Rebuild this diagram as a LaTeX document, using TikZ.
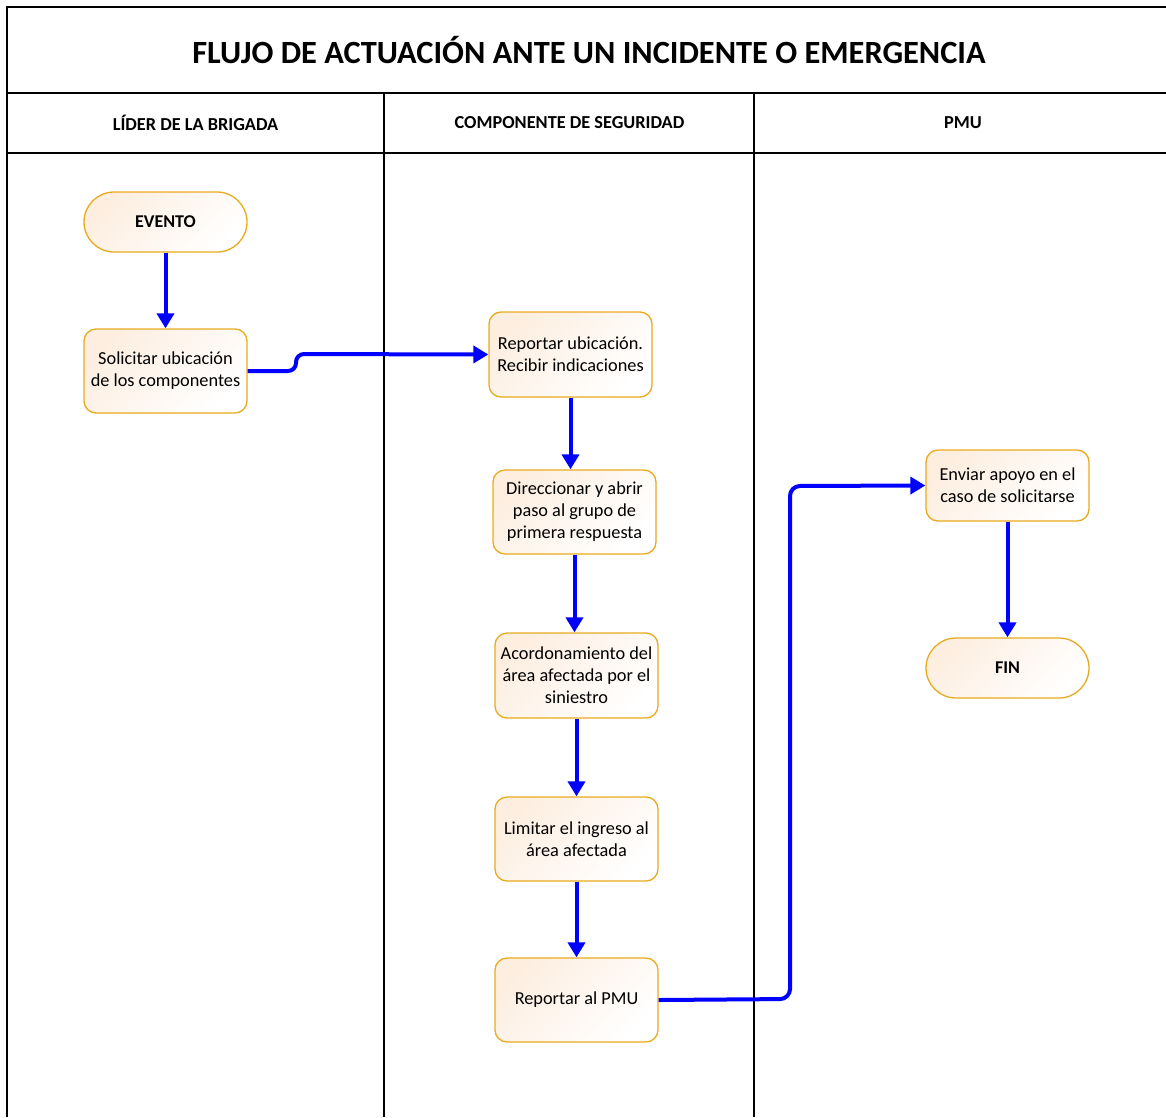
\documentclass[tikz,border=0pt]{standalone}
\usepackage{fontspec}
\setmainfont{Carlito}
\usetikzlibrary{arrows.meta}
\definecolor{gold}{RGB}{232,170,30}
\definecolor{peach}{RGB}{253,238,224}
\definecolor{flowblue}{RGB}{0,0,255}
\tikzset{
  frameline/.style={line width=1.6pt, black},
  procbox/.style={draw=gold, line width=1.3pt, rounded corners=12pt,
    minimum width=163pt, minimum height=84pt, align=center,
    top color=peach, bottom color=white, shading angle=45,
    font=\fontsize{18.3}{22}\selectfont, inner sep=2pt},
  termbox/.style={procbox, rounded corners=30pt, minimum height=60pt,
    font=\fontsize{18}{22}\selectfont\bfseries},
  flow/.style={draw=flowblue, line width=4pt,
    -{Triangle[width=17pt,length=15pt]}},
  header/.style={font=\fontsize{18.3}{20}\selectfont\bfseries},
}
\begin{document}
\begin{tikzpicture}[x=1pt,y=-1pt]
\useasboundingbox (0,0) rectangle (1166,1117);
% frame
\draw[frameline] (7,1117) -- (7,7) -- (1166,7);
\draw[frameline] (7,93) -- (1166,93);
\draw[frameline] (7,153) -- (1166,153);
\draw[frameline] (384,93) -- (384,1117);
\draw[frameline] (754,93) -- (754,1117);
% titles
\node[font=\fontsize{32.4}{36}\selectfont\bfseries] (title) at (589,50) {FLUJO DE ACTUACIÓN ANTE UN INCIDENTE O EMERGENCIA};
\node[header] (h1) at (195.5,123) {LÍDER DE LA BRIGADA};
\node[header] (h2) at (569.5,123) {COMPONENTE DE SEGURIDAD};
\node[header] (h3) at (963,123) {PMU};
% nodes
\node[termbox] (evento) at (165.5,222) {EVENTO};
\node[procbox] (solic) at (165.5,371) {Solicitar ubicación\\de los componentes};
\node[procbox, minimum height=85pt] (repub) at (570.5,354.5) {Reportar ubicación.\\Recibir indicaciones};
\node[procbox] (direc) at (574.5,512) {Direccionar y abrir\\paso al grupo de\\primera respuesta};
\node[procbox, minimum height=85pt] (acord) at (576.5,675.5) {Acordonamiento del\\área afectada por el\\siniestro};
\node[procbox] (limit) at (576.5,839) {Limitar el ingreso al\\área afectada};
\node[procbox] (rpmu) at (576.5,1000) {Reportar al PMU};
\node[procbox, minimum height=71pt] (envia) at (1007.5,485.5) {Enviar apoyo en el\\caso de solicitarse};
\node[termbox] (fin) at (1007.5,668) {FIN};
% connectors
\coordinate (j1) at (296,371);
\coordinate (j2) at (296,354);
\coordinate (b1) at (790,999);
\coordinate (b2) at (790,486);
\draw[flow] (evento) -- (solic);
\draw[flow, rounded corners=8pt] (solic.east) -- (j1) -- (j2) -- (repub.west);
\draw[flow] (repub) -- (repub|-direc.north);
\draw[flow] (direc) -- (direc|-acord.north);
\draw[flow] (acord) -- (acord|-limit.north);
\draw[flow] (limit) -- (limit|-rpmu.north);
\draw[flow, rounded corners=10pt] (rpmu.east) -- (b1) -- (b2) -- (envia.west);
\draw[flow] (envia) -- (fin);
\end{tikzpicture}
\end{document}
